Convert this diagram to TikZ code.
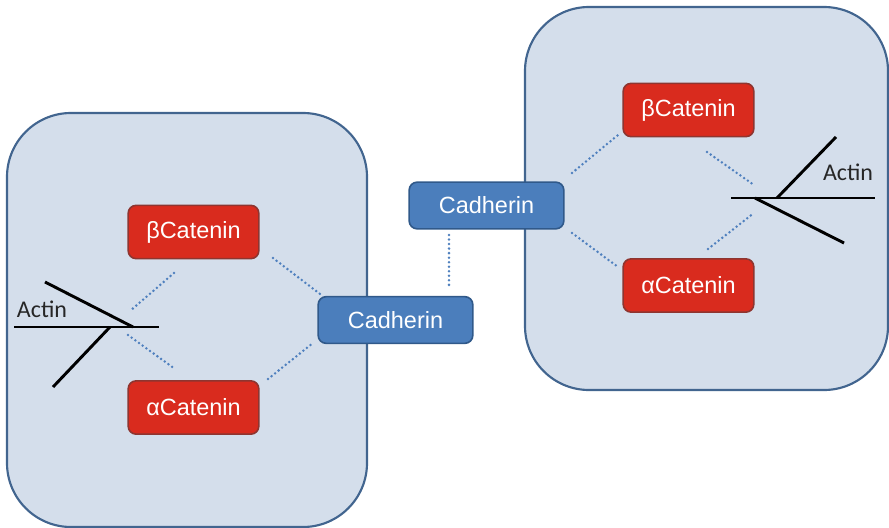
\documentclass[tikz,border=0pt]{standalone}
\usepackage{fontspec}
\setmainfont{Liberation Sans}
\newfontfamily\actinfont{Carlito}
\definecolor{cellfill}{HTML}{D4DEEB}
\definecolor{celledge}{HTML}{42658F}
\definecolor{redfill}{HTML}{D92B1E}
\definecolor{rededge}{HTML}{8E3530}
\definecolor{bluefill}{HTML}{4B7EBC}
\definecolor{blueedge}{HTML}{30598A}
\definecolor{dotblue}{HTML}{4F80BE}
\begin{document}
\begin{tikzpicture}[x=0.75pt,y=-0.75pt,
  cell/.style={draw=celledge,fill=cellfill,line width=1.6pt,rounded corners=48pt},
  catenin/.style={draw=rededge,fill=redfill,line width=1.2pt,rounded corners=6pt,
    minimum width=98pt,minimum height=40pt,inner sep=0pt,text=white,font=\fontsize{17.6}{20}\selectfont},
  cadherin/.style={draw=blueedge,fill=bluefill,line width=1.2pt,rounded corners=6pt,
    minimum width=116pt,minimum height=35pt,inner sep=0pt,text=white,font=\fontsize{17.6}{20}\selectfont},
  link/.style={draw=dotblue,line width=2.1pt,line cap=round,dash pattern=on 0pt off 3.4pt},
  fibre/.style={draw=black,line width=2.2pt},
  actinlabel/.style={font=\actinfont\fontsize{18}{20}\selectfont,text=black!85,inner sep=0pt}]
\useasboundingbox (0,0) rectangle (889,528);

% cell bodies
\draw[cell] (7,113) rectangle (367,527);
\draw[cell] (525,7) rectangle (888,390);

% proteins of the left cell
\node[catenin] (lb) at (193.5,232) {βCatenin};
\node[catenin] (la) at (193.5,407.5) {αCatenin};
\node[cadherin] (lc) at (395.5,320) {Cadherin};

% proteins of the right cell
\node[catenin] (rb) at (688.5,110) {βCatenin};
\node[catenin] (ra) at (688.5,285.5) {αCatenin};
\node[cadherin] (rc) at (486.5,205.5) {Cadherin};

% actin bundle, left cell
\coordinate (lj) at (133,327);
\coordinate (lk) at (110,327);
\coordinate (lw) at (14,327);
\coordinate (le) at (159,327);
\coordinate (lu) at (45,282);
\coordinate (ld) at (53,387);
\draw[fibre] (lw) -- (le);
\draw[fibre] (lu) -- (lj);
\draw[fibre] (lk) -- (ld);
\node[actinlabel] (lt) at (42,309) {Actin};

% actin bundle, right cell
\coordinate (rw) at (731,198);
\coordinate (re) at (875,198);
\coordinate (rj) at (755,198);
\coordinate (rk) at (777,198);
\coordinate (ru) at (836,137);
\coordinate (rd) at (844,243);
\draw[fibre] (rw) -- (re);
\draw[fibre] (rk) -- (ru);
\draw[fibre] (rj) -- (rd);
\node[actinlabel] (rt) at (848,172) {Actin};

% binding links, left cell
\coordinate (l1a) at (174,273); \coordinate (l1b) at (130,311);
\coordinate (l2a) at (128,335); \coordinate (l2b) at (175,369);
\coordinate (l3a) at (273,258); \coordinate (l3b) at (320,294);
\coordinate (l4a) at (268,379); \coordinate (l4b) at (313,343);
\draw[link] (l1a) -- (l1b);
\draw[link] (l2a) -- (l2b);
\draw[link] (l3a) -- (l3b);
\draw[link] (l4a) -- (l4b);

% link between the two cadherins
\coordinate (c1) at (449,235); \coordinate (c2) at (449,288);
\draw[link] (c1) -- (c2);

% binding links, right cell
\coordinate (r1a) at (572,173); \coordinate (r1b) at (618,135);
\coordinate (r2a) at (572,233); \coordinate (r2b) at (618,267);
\coordinate (r3a) at (707,152); \coordinate (r3b) at (754,185);
\coordinate (r4a) at (708,249); \coordinate (r4b) at (754,213);
\draw[link] (r1a) -- (r1b);
\draw[link] (r2a) -- (r2b);
\draw[link] (r3a) -- (r3b);
\draw[link] (r4a) -- (r4b);
\end{tikzpicture}
\end{document}
